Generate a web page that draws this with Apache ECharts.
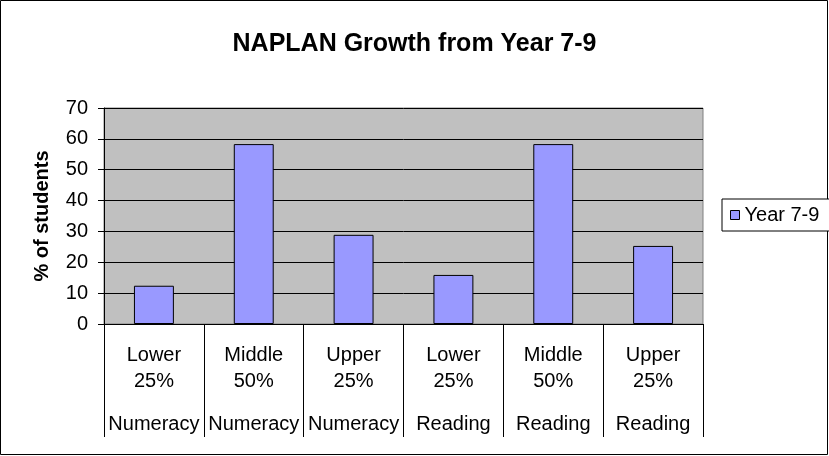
<!DOCTYPE html>
<html>
<head>
    <meta charset="UTF-8"/>
    <script type="text/javascript" src="https://cdn.jsdelivr.net/npm/echarts@6/dist/echarts.min.js"></script>
    <title>NAPLAN</title>
    <style>
        html, body { margin: 0; padding: 0; background: #fff; }
        #main { width: 829px; height: 456px; }
    </style>
</head>
<body>
<div id="main"></div>
<script type="text/javascript">
    // data
    var bands = ["Lower\n25%", "Middle\n50%", "Upper\n25%", "Lower\n25%", "Middle\n50%", "Upper\n25%"]
    var subjects = ["Numeracy", "Numeracy", "Numeracy", "Reading", "Reading", "Reading"]
    var growth = [12.4, 58.3, 28.9, 15.9, 58.3, 25.3]
    var seriesName = "Year 7-9"

    var font = "Liberation Sans, Arial, sans-serif"
    var myChart = echarts.init(document.getElementById('main'))

    var option = {
        animation: false,
        backgroundColor: "#fff",
        title: {
            text: "NAPLAN Growth from Year 7-9",
            left: "center",
            top: 27,
            textStyle: {fontFamily: font, fontSize: 25, fontWeight: "bold", color: "#000"}
        },
        legend: {
            left: 722,
            top: 199,
            padding: [6, 30, 6, 8],
            borderColor: "#000",
            borderWidth: 1,
            backgroundColor: "#fff",
            icon: "rect",
            itemWidth: 9,
            itemHeight: 9,
            itemStyle: {borderColor: "#000", borderWidth: 1},
            textStyle: {fontFamily: font, fontSize: 20, color: "#000"},
            data: [seriesName]
        },
        grid: {
            left: 104, right: 126, top: 108, bottom: 132,
            show: true,
            backgroundColor: "#c0c0c0",
            borderColor: "#808080",
            borderWidth: 1
        },
        xAxis: [
            {
                type: "category",
                data: bands,
                boundaryGap: true,
                axisLine: {lineStyle: {color: "#000", width: 1}},
                axisTick: {show: true, interval: 0, length: 113, lineStyle: {color: "#000"}},
                axisLabel: {
                    interval: 0, margin: 18, lineHeight: 26,
                    fontFamily: font, fontSize: 20, color: "#000"
                }
            },
            {
                type: "category",
                data: subjects,
                position: "bottom",
                axisLine: {show: false},
                axisTick: {show: false},
                axisLabel: {
                    interval: 0, margin: 87, lineHeight: 26,
                    fontFamily: font, fontSize: 20, color: "#000"
                }
            }
        ],
        yAxis: {
            type: "value",
            min: 0, max: 70, interval: 10,
            name: "% of students",
            nameLocation: "middle",
            nameGap: 52,
            nameTextStyle: {fontFamily: font, fontSize: 20, fontWeight: "bold", color: "#000"},
            axisLine: {show: true, lineStyle: {color: "#000"}},
            axisTick: {show: true, length: 6, lineStyle: {color: "#000"}},
            axisLabel: {margin: 16, fontFamily: font, fontSize: 20, color: "#000"},
            splitLine: {show: true, lineStyle: {color: "#000", width: 1}}
        },
        series: [
            {
                name: seriesName,
                type: "bar",
                xAxisIndex: 0,
                barWidth: "40%",
                data: growth,
                itemStyle: {color: "#9999ff", borderColor: "#000", borderWidth: 1}
            }
        ],
        graphic: [
            {
                type: "rect",
                shape: {x: 0.5, y: 0.5, width: 827, height: 454},
                style: {fill: null, stroke: "#000", lineWidth: 1},
                silent: true
            }
        ]
    }
    myChart.setOption(option)
</script>
</body>
</html>
